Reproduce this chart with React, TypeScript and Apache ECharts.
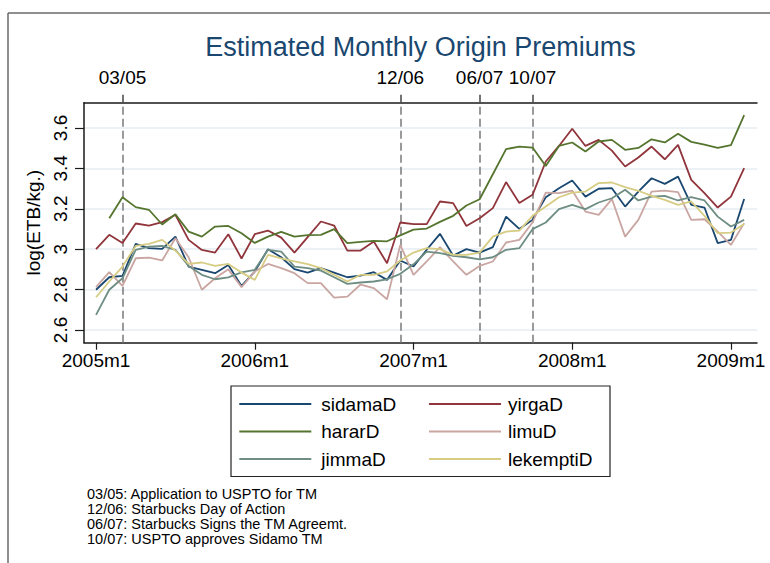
import React, { useEffect, useRef } from 'react';
import * as echarts from 'echarts';

// ---- data ----
const xTickValues = [0, 12, 24, 36, 48];
const xTickLabels = ['2005m1', '2006m1', '2007m1', '2008m1', '2009m1'];
const yTickValues = [2.6, 2.8, 3.0, 3.2, 3.4, 3.6];
const eventMonths = [2, 23, 29, 33];
const eventLabels = ['03/05', '12/06', '06/07', '10/07'];
const notes = [
  '03/05: Application to USPTO for TM',
  '12/06: Starbucks Day of Action',
  '06/07: Starbucks Signs the TM Agreemt.',
  '10/07: USPTO approves Sidamo TM',
];

const sidamaD = [2.799, 2.861, 2.868, 3.026, 3.005, 3.001, 3.062, 2.914, 2.898, 2.881,
  2.922, 2.818, 2.889, 3.0, 2.96, 2.901, 2.884, 2.906, 2.884, 2.861,
  2.869, 2.886, 2.848, 2.944, 2.914, 2.997, 3.076, 2.968, 3.0, 2.983,
  3.01, 3.161, 3.1, 3.145, 3.257, 3.302, 3.34, 3.26, 3.299, 3.302,
  3.211, 3.285, 3.351, 3.323, 3.359, 3.219, 3.206, 3.03, 3.046, 3.248];
const yirgaD = [3.0, 3.071, 3.031, 3.127, 3.117, 3.134, 3.17, 3.046, 2.996, 2.983,
  3.074, 2.954, 3.074, 3.092, 3.057, 2.983, 3.06, 3.137, 3.117, 2.993,
  2.993, 3.038, 2.93, 3.132, 3.124, 3.124, 3.236, 3.228, 3.115, 3.153,
  3.203, 3.332, 3.228, 3.269, 3.434, 3.511, 3.596, 3.511, 3.541, 3.488,
  3.409, 3.454, 3.508, 3.445, 3.516, 3.343, 3.277, 3.206, 3.26, 3.401];
const hararD = [null, 3.153, 3.257, 3.208, 3.195, 3.122, 3.173, 3.087, 3.062, 3.112,
  3.115, 3.079, 3.031, 3.062, 3.086, 3.062, 3.069, 3.071, 3.099, 3.03,
  3.036, 3.041, 3.039, 3.068, 3.097, 3.102, 3.135, 3.165, 3.216, 3.247,
  3.371, 3.495, 3.508, 3.503, 3.412, 3.511, 3.528, 3.483, 3.533, 3.541,
  3.492, 3.501, 3.544, 3.528, 3.571, 3.531, 3.518, 3.501, 3.515, 3.663];
const limuD = [2.812, 2.886, 2.818, 2.955, 2.958, 2.944, 3.054, 2.96, 2.799, 2.856,
  2.9, 2.812, 2.889, 2.927, 2.906, 2.881, 2.832, 2.832, 2.76, 2.765,
  2.825, 2.807, 2.752, 3.021, 2.873, 2.939, 3.01, 2.939, 2.873, 2.917,
  2.939, 3.033, 3.046, 3.132, 3.28, 3.277, 3.29, 3.186, 3.17, 3.248,
  3.062, 3.145, 3.285, 3.29, 3.282, 3.145, 3.148, 3.087, 3.021, 3.129];
const jimmaD = [2.675, 2.799, 2.856, 2.997, 3.013, 3.016, 2.997, 2.917, 2.873, 2.851,
  2.86, 2.885, 2.898, 2.997, 2.988, 2.914, 2.906, 2.894, 2.861, 2.828,
  2.835, 2.84, 2.851, 2.878, 2.925, 2.988, 2.98, 2.967, 2.96, 2.95,
  2.96, 2.997, 3.005, 3.099, 3.132, 3.198, 3.219, 3.198, 3.231, 3.252,
  3.294, 3.241, 3.26, 3.264, 3.241, 3.257, 3.241, 3.161, 3.112, 3.145];
const lekemptiD = [2.762, 2.84, 2.914, 3.016, 3.026, 3.046, 2.993, 2.927, 2.934, 2.917,
  2.927, 2.884, 2.848, 2.972, 2.955, 2.939, 2.926, 2.906, 2.873, 2.84,
  2.873, 2.873, 2.89, 2.944, 2.983, 3.005, 3.0, 2.972, 2.972, 2.983,
  3.062, 3.087, 3.092, 3.165, 3.211, 3.257, 3.28, 3.285, 3.327, 3.33,
  3.307, 3.289, 3.264, 3.244, 3.219, 3.236, 3.165, 3.079, 3.082, 3.125];

const seriesNames = ['sidamaD', 'yirgaD', 'hararD', 'limuD', 'jimmaD', 'lekemptiD'];
const seriesValues = [sidamaD, yirgaD, hararD, limuD, jimmaD, lekemptiD];
const seriesColors = ['#1a476f', '#90353b', '#55752f', '#c9a6a2', '#6e8e84', '#d6cc83'];

const FONT = '"Liberation Sans", Arial, Helvetica, sans-serif';
const X_MIN = -0.91;
const X_MAX = 49.97;

function buildOption() {
  const axisLineStyle = { color: '#1a1a1a', width: 1.5 };
  return {
    animation: false,
    backgroundColor: '#ffffff',
    textStyle: { fontFamily: FONT },
    title: {
      text: 'Estimated Monthly Origin Premiums',
      left: 420.5,
      textAlign: 'center',
      top: 33,
      padding: 0,
      textStyle: { fontSize: 27, fontWeight: 'normal', color: '#1a476f', fontFamily: FONT },
    },
    grid: { left: 84, right: 13, top: 102.7, bottom: 220.3, containLabel: false },
    xAxis: [
      {
        type: 'value',
        position: 'bottom',
        min: X_MIN,
        max: X_MAX,
        axisLine: { show: true, onZero: false, lineStyle: axisLineStyle },
        axisTick: { show: true, length: 7, customValues: xTickValues, lineStyle: { color: '#1a1a1a', width: 1.2 } },
        axisLabel: {
          show: true,
          customValues: xTickValues,
          formatter: (v: number) => {
            const k = xTickValues.indexOf(Math.round(v));
            return k >= 0 ? xTickLabels[k] : '';
          },
          fontSize: 19,
          color: '#000',
          margin: 8,
          fontFamily: FONT,
        },
        splitLine: { show: false },
      },
      {
        type: 'value',
        position: 'top',
        min: X_MIN,
        max: X_MAX,
        axisLine: { show: true, onZero: false, lineStyle: axisLineStyle },
        axisTick: { show: true, length: 8, customValues: eventMonths, lineStyle: { color: '#444', width: 1.5 } },
        axisLabel: {
          show: true,
          customValues: eventMonths,
          formatter: (v: number) => {
            const k = eventMonths.indexOf(Math.round(v));
            return k >= 0 ? eventLabels[k] : '';
          },
          fontSize: 19,
          color: '#000',
          margin: 16,
          fontFamily: FONT,
        },
        splitLine: { show: false },
      },
    ],
    yAxis: {
      type: 'value',
      min: 2.537,
      max: 3.725,
      axisLine: { show: true, onZero: false, lineStyle: axisLineStyle },
      axisTick: { show: true, length: 9, customValues: yTickValues, lineStyle: { color: '#1a1a1a', width: 1.2 } },
      axisLabel: {
        show: true,
        customValues: yTickValues,
        rotate: 90,
        formatter: (v: number) => String(Number(v.toFixed(1))),
        fontSize: 19,
        color: '#000',
        margin: 14,
        fontFamily: FONT,
      },
      splitLine: { show: true, lineStyle: { color: '#e4edf0', width: 1.5 } },
      name: 'log(ETB/kg.)',
      nameLocation: 'middle',
      nameGap: 35,
      nameTextStyle: { fontSize: 19, color: '#000', fontFamily: FONT },
    },
    legend: [
      {
        data: ['sidamaD', 'hararD', 'jimmaD'],
        orient: 'vertical',
        left: 239.3,
        top: 394,
        padding: 0,
        itemGap: 7.5,
        itemWidth: 72,
        itemHeight: 2,
        icon: 'rect',
        selectedMode: false,
        textStyle: { fontSize: 19, color: '#000', lineHeight: 20, padding: [0, 0, 0, 5], fontFamily: FONT },
      },
      {
        data: ['yirgaD', 'limuD', 'lekemptiD'],
        orient: 'vertical',
        left: 429,
        top: 394,
        padding: 0,
        itemGap: 7.5,
        itemWidth: 72,
        itemHeight: 2,
        icon: 'rect',
        selectedMode: false,
        textStyle: { fontSize: 19, color: '#000', lineHeight: 20, padding: [0, 0, 0, 2], fontFamily: FONT },
      },
    ],
    graphic: [
      { type: 'line', shape: { x1: 8, y1: 13, x2: 770, y2: 13 }, style: { stroke: '#6a6a6a', lineWidth: 1.5 }, silent: true },
      { type: 'line', shape: { x1: 8, y1: 13, x2: 8, y2: 563 }, style: { stroke: '#6a6a6a', lineWidth: 1.5 }, silent: true },
      { type: 'rect', shape: { x: 231, y: 386, width: 379, height: 90.5 }, style: { stroke: '#222', fill: 'none', lineWidth: 1.2 }, silent: true },
      {
        type: 'text',
        x: 87,
        y: 486,
        silent: true,
        style: {
          text: notes.join('\n'),
          font: `14.5px ${FONT}`,
          lineHeight: 15,
          fill: '#000',
          verticalAlign: 'top',
          align: 'left',
        },
      },
    ],
    series: seriesNames.map((name, k) => ({
      name,
      type: 'line',
      xAxisIndex: 0,
      yAxisIndex: 0,
      data: seriesValues[k]
        .map((v, i) => (v === null ? null : [i, v]))
        .filter((d) => d !== null),
      symbol: 'none',
      showSymbol: false,
      lineStyle: { width: 1.8, color: seriesColors[k] },
      itemStyle: { color: seriesColors[k] },
      z: 3,
      markLine:
        k === 0
          ? {
              silent: true,
              symbol: ['none', 'none'],
              label: { show: false },
              lineStyle: { type: [8, 4], color: '#7a7a7a', width: 1.5 },
              data: eventMonths.map((m) => ({ xAxis: m })),
              z: 2,
            }
          : undefined,
    })),
  };
}

export default function App() {
  const ref = useRef<HTMLDivElement>(null);
  useEffect(() => {
    if (!ref.current) return;
    const chart = echarts.init(ref.current, null, { renderer: 'svg' });
    chart.setOption(buildOption() as any);
    return () => {
      chart.dispose();
    };
  }, []);
  return (
    <div
      ref={ref}
      style={{ position: 'absolute', left: 0, top: 0, width: 770, height: 563, background: '#fff' }}
    />
  );
}
